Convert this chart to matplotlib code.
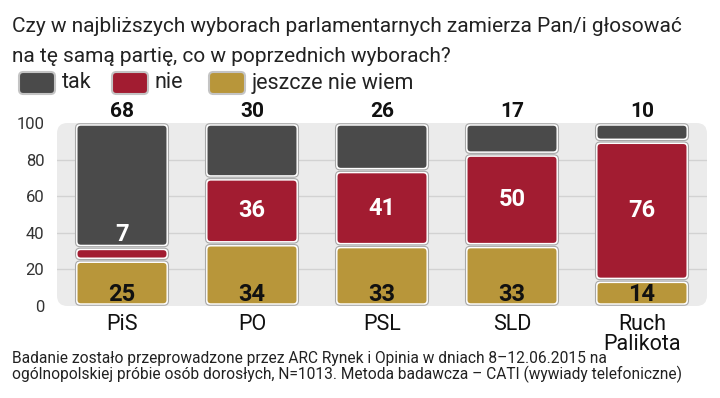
import matplotlib
matplotlib.use('Agg')
import matplotlib.pyplot as plt
from matplotlib.patches import FancyBboxPatch
from matplotlib import font_manager
import numpy as np

# ---------- dane ----------
partie = ['PiS', 'PO', 'PSL', 'SLD', 'Ruch\nPalikota']
tak = [68, 30, 26, 17, 10]
nie = [7, 36, 41, 50, 76]
nie_wiem = [25, 34, 33, 33, 14]
y_ticks = [0, 20, 40, 60, 80, 100]

kol_tak = '#4a4a4a'
kol_nie = '#a21c31'
kol_wiem = '#b8963a'

# czcionka waska jesli jest
dostepne = {f.name for f in font_manager.fontManager.ttflist}
rodzina = [f for f in ['Liberation Sans Narrow', 'Roboto', 'DejaVu Sans'] if f in dostepne]
plt.rcParams['font.family'] = rodzina

fig = plt.figure(figsize=(7.2, 3.98), dpi=100)
ax = fig.add_axes([57/720, 1-306/398, 650/720, 183/398])
ax.set_xlim(-0.5, 4.5)
ax.set_ylim(0, 100)
for s in ax.spines.values():
    s.set_visible(False)
ax.set_xticks([])
ax.set_yticks(y_ticks)
ax.tick_params(axis='y', length=0, pad=9, labelsize=12, labelcolor='#333333')
ax.patch.set_alpha(0)

# przeliczenie: ile jednostek y na 1 jednostke x w pikselach
px_x = 650/5.0
px_y = 183/100.0
asp = px_x/px_y

# tlo panelu
tlo = FancyBboxPatch((-0.5, 0), 5, 100, boxstyle='round,pad=0,rounding_size=0.08',
                     mutation_aspect=asp, fc='#ebebeb', ec='none', zorder=0, clip_on=False)
ax.add_patch(tlo)
for t in y_ticks[1:-1]:
    ax.plot([-0.5, 4.5], [t, t], color='#d2d2d2', lw=1, zorder=1)

x = np.arange(len(partie))
width = 0.715
dol = np.array(nie_wiem)
srodek = dol + np.array(nie)
b1 = ax.bar(x, nie_wiem, width, color='none')
b2 = ax.bar(x, nie, width, bottom=dol, color='none')
b3 = ax.bar(x, tak, width, bottom=srodek, color='none')

# zaokraglone segmenty
def zaokraglij(bars, kolor):
    for r in bars:
        x0, y0, w, h = r.get_x(), r.get_y(), r.get_width(), r.get_height()
        r.set_visible(False)
        g = 0.4
        zew = FancyBboxPatch((x0, y0+g), w, h-2*g, boxstyle='round,pad=0,rounding_size=0.035',
                             mutation_aspect=asp, fc='white', ec='#a8a8a8', lw=0.8, zorder=2, clip_on=False)
        ax.add_patch(zew)
        dx = 2/px_x
        dy = 2/px_y
        wew = FancyBboxPatch((x0+dx, y0+g+dy), w-2*dx, h-2*g-2*dy, boxstyle='round,pad=0,rounding_size=0.025',
                             mutation_aspect=asp, fc=kolor, ec='none', zorder=3, clip_on=False)
        ax.add_patch(wew)

zaokraglij(b1, kol_wiem)
zaokraglij(b2, kol_nie)
zaokraglij(b3, kol_tak)

# etykiety
for i in range(len(partie)):
    ax.text(x[i], 106.5, str(tak[i]), ha='center', va='center', fontsize=15,
            fontweight='bold', color='#111111', clip_on=False)
    ax.text(x[i], 6.5, str(nie_wiem[i]), ha='center', va='center', fontsize=17,
            fontweight='bold', color='#111111', zorder=5)
    if nie[i] > 15:
        yy = dol[i] + nie[i]/2
    else:
        yy = srodek[i] + 7
    ax.text(x[i], yy, str(nie[i]), ha='center', va='center', fontsize=17,
            fontweight='bold', color='white', zorder=5)
    ax.text(x[i], -4.3, partie[i], ha='center', va='top', fontsize=15.5,
            color='#111111', linespacing=0.95, clip_on=False)

# tytul
fig.text(12/720, 1-27/398, 'Czy w najbliższych wyborach parlamentarnych zamierza Pan/i głosować',
         fontsize=15, va='center', ha='left', color='#222222')
fig.text(12/720, 1-56/398, 'na tę samą partię, co w poprzednich wyborach?',
         fontsize=15, va='center', ha='left', color='#222222')

# legenda
leg = [(19, kol_tak, 'tak'), (112, kol_nie, 'nie'), (209, kol_wiem, 'jeszcze nie wiem')]
for lx, kol, txt in leg:
    p = FancyBboxPatch((lx/720, 1-94/398), 36/720, 22/398,
                       boxstyle='round,pad=0,rounding_size=0.006', mutation_aspect=720/398,
                       transform=fig.transFigure, fc=kol, ec='#c4c4c4', lw=1.5)
    fig.patches.append(p)
    fig.text((lx+43)/720, 1-83/398, txt, fontsize=15.5, va='center', ha='left', color='#222222')

# zrodlo
fig.text(12/720, 1-358/398, 'Badanie zostało przeprowadzone przez ARC Rynek i Opinia w dniach 8–12.06.2015 na',
         fontsize=11.2, va='center', ha='left', color='#222222')
fig.text(12/720, 1-374/398, 'ogólnopolskiej próbie osób dorosłych, N=1013. Metoda badawcza – CATI (wywiady telefoniczne)',
         fontsize=11.2, va='center', ha='left', color='#222222')

plt.savefig('out.png', dpi=100)
